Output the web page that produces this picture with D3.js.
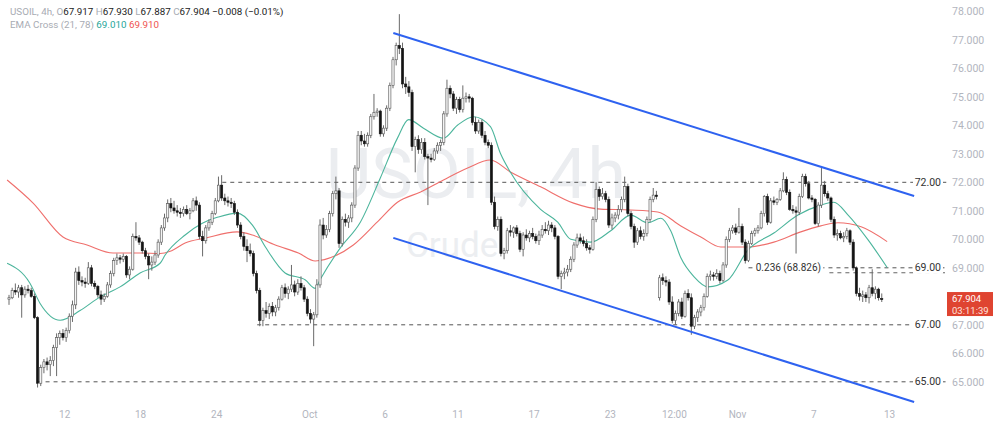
<!DOCTYPE html>
<html><head><meta charset="utf-8">
<script src="https://cdn.jsdelivr.net/npm/d3@7"></script>
<style>body{margin:0;background:#fff;} svg{display:block;font-family:Roboto,"Liberation Sans",sans-serif;}</style>
</head><body><svg id="c" width="1000" height="436"></svg>
<script>
// ---- data ----
const candles = [
[67.90,68.05,67.70,67.95],[67.95,68.30,67.90,68.20],[68.20,68.45,68.05,68.15],[68.15,68.40,67.95,68.30],
[68.30,68.40,67.25,68.05],[68.05,68.35,67.95,68.25],[68.25,68.40,68.10,68.20],[68.20,68.30,67.95,68.00],
[68.00,68.10,67.20,67.25],[67.25,67.30,64.80,64.95],[64.95,65.60,64.85,65.50],[65.50,65.80,65.30,65.70],
[65.70,65.85,65.40,65.60],[65.60,65.90,65.20,65.75],[65.75,66.30,65.55,66.20],[66.20,66.70,65.20,66.55],
[66.55,66.80,66.30,66.70],[66.70,66.85,66.45,66.55],[66.55,66.90,66.40,66.80],[66.80,67.40,66.70,67.30],
[67.30,67.85,67.10,67.70],[67.70,69.00,67.55,68.85],[68.85,69.05,68.40,68.55],[68.55,68.70,68.35,68.50],
[68.50,68.65,68.30,68.45],[68.45,69.20,68.40,69.00],[69.00,69.10,68.35,68.45],[68.45,68.55,68.25,68.35],
[68.35,68.40,67.95,68.05],[68.05,68.20,67.70,67.90],[67.90,68.10,67.80,68.00],[68.00,68.50,67.95,68.40],
[68.40,68.90,68.30,68.80],[68.80,69.35,68.70,69.25],[69.25,69.50,69.10,69.35],[69.35,69.45,69.15,69.30],
[69.30,69.50,69.20,69.40],[69.40,69.45,68.65,68.75],[68.75,69.05,68.60,68.95],[68.95,70.20,68.90,70.10],
[70.10,70.60,69.95,70.05],[70.05,70.15,69.80,69.90],[69.90,69.95,69.50,69.60],[69.60,69.70,69.30,69.40],
[69.40,69.50,68.60,69.10],[69.10,69.40,68.90,69.20],[69.20,69.60,69.10,69.45],[69.45,70.00,69.35,69.90],
[69.90,70.50,69.80,70.40],[70.40,70.90,70.30,70.75],[70.75,71.40,70.60,71.25],[71.25,71.45,70.95,71.10],
[71.10,71.35,70.90,71.00],[71.00,71.20,70.80,70.95],[70.95,71.10,70.75,70.90],[70.90,71.15,70.80,71.05],
[71.05,71.20,70.85,70.90],[70.90,71.10,70.70,71.00],[71.00,71.45,70.95,71.35],[71.35,71.50,71.00,71.20],
[71.20,71.30,70.00,70.10],[70.10,70.30,69.40,69.95],[69.95,70.50,69.85,70.40],[70.40,70.70,70.30,70.60],
[70.60,71.00,70.50,70.90],[70.90,71.45,70.85,71.35],[71.35,72.20,71.30,71.90],[71.90,72.25,71.35,71.45],
[71.45,71.60,71.20,71.35],[71.35,71.50,71.15,71.30],[71.30,71.45,71.10,71.25],[71.25,71.35,70.85,70.95],
[70.95,71.05,70.40,70.50],[70.50,70.60,70.00,70.10],[70.10,70.25,69.60,69.75],[69.75,70.00,69.20,69.60],
[69.60,69.85,69.40,69.50],[69.50,69.60,68.70,68.80],[68.80,68.90,68.10,68.20],[68.20,68.30,66.95,67.15],
[67.15,67.60,66.95,67.50],[67.50,67.80,67.25,67.40],[67.40,67.75,67.20,67.65],[67.65,67.80,67.30,67.45],
[67.45,67.70,67.30,67.60],[67.60,68.00,67.50,67.90],[67.90,68.40,67.85,68.30],[68.30,68.45,67.95,68.10],
[68.10,68.35,67.90,68.25],[68.25,69.10,68.15,68.40],[68.40,68.55,68.00,68.15],[68.15,68.60,68.05,68.45],
[68.45,68.70,68.20,68.30],[68.30,68.40,67.80,67.90],[67.90,68.00,67.30,67.40],[67.40,67.55,67.05,67.20],
[67.20,67.45,66.25,67.35],[67.35,68.60,67.25,68.40],[68.40,70.70,68.30,70.50],[70.50,70.75,70.00,70.15],
[70.15,70.50,70.05,70.35],[70.35,71.00,70.25,70.90],[70.90,71.70,70.80,71.60],[71.60,72.20,71.40,71.70],
[71.70,71.80,69.70,69.85],[69.85,70.80,69.75,70.70],[70.70,70.90,70.45,70.60],[70.60,70.85,70.40,70.75],
[70.75,71.30,70.60,71.20],[71.20,72.60,71.10,72.50],[72.50,73.80,72.40,73.65],[73.65,73.80,73.30,73.45],
[73.45,73.70,73.25,73.35],[73.35,73.75,73.25,73.65],[73.65,74.40,73.55,74.30],[74.30,75.10,74.20,74.45],
[74.45,74.60,74.30,74.50],[74.50,74.55,73.60,73.70],[73.70,74.00,73.60,73.90],[73.90,74.70,73.80,74.60],
[74.60,75.50,74.50,75.40],[75.40,76.40,75.30,76.30],[76.30,76.90,76.10,76.80],[76.80,77.90,76.50,76.70],
[76.70,76.90,75.30,75.45],[75.45,75.70,75.10,75.35],[75.35,75.55,75.00,75.15],[75.15,75.25,73.10,73.25],
[73.25,73.60,72.35,73.50],[73.50,73.65,73.00,73.15],[73.15,73.55,73.00,73.40],[73.40,73.55,72.80,72.90],
[72.90,73.00,71.20,72.85],[72.85,73.00,72.70,72.80],[72.80,73.20,72.75,73.10],[73.10,73.40,73.00,73.30],
[73.30,73.50,73.10,73.40],[73.40,74.50,73.30,74.40],[74.40,75.60,74.30,75.30],[75.30,75.40,74.95,75.10],
[75.10,75.20,74.50,74.60],[74.60,75.00,74.40,74.90],[74.90,75.00,74.45,74.55],[74.55,75.40,74.45,74.95],
[74.95,75.15,74.80,75.00],[75.00,75.10,74.80,74.95],[74.95,75.00,74.00,74.10],[74.10,74.30,73.70,73.80],
[73.80,74.20,73.70,74.10],[74.10,74.20,73.55,73.65],[73.65,73.80,73.30,73.40],[73.40,73.50,73.20,73.30],
[73.30,73.40,71.20,71.30],[71.30,71.50,70.35,70.45],[70.45,70.80,70.30,70.70],[70.70,70.80,69.40,69.50],
[69.50,69.70,69.30,69.60],[69.60,70.40,69.50,70.30],[70.30,70.50,70.10,70.25],[70.25,70.45,70.05,70.40],
[70.40,70.50,70.10,70.20],[70.20,70.30,69.55,69.65],[69.65,70.25,69.40,70.15],[70.15,70.35,69.95,70.05],
[70.05,70.30,69.90,70.20],[70.20,70.40,70.00,70.10],[70.10,70.20,69.85,69.95],[69.95,70.30,69.80,70.15],
[70.15,70.50,70.05,70.35],[70.35,70.60,70.20,70.30],[70.30,70.65,70.15,70.50],[70.50,70.60,70.25,70.40],
[70.40,70.50,70.00,70.10],[70.10,70.15,68.60,68.70],[68.70,68.90,68.25,68.80],[68.80,69.00,68.60,68.85],
[68.85,69.10,68.70,68.95],[68.95,69.40,68.85,69.30],[69.30,69.90,69.20,69.80],[69.80,70.20,69.70,70.05],
[70.05,70.20,69.85,69.95],[69.95,70.10,69.75,69.85],[69.85,70.00,69.60,69.70],[69.70,69.80,69.50,69.65],
[69.65,70.80,69.60,70.70],[70.70,72.00,70.60,71.75],[71.75,71.85,71.35,71.50],[71.50,71.80,71.40,71.60],
[71.60,71.70,71.30,71.40],[71.40,71.50,70.40,70.50],[70.50,70.90,70.35,70.75],[70.75,70.95,70.60,70.85],
[70.85,71.20,70.70,71.05],[71.05,71.50,70.95,71.40],[71.40,72.20,71.30,71.85],[71.85,71.95,70.80,70.90],
[70.90,71.00,70.35,70.45],[70.45,70.55,69.70,69.90],[69.90,70.40,69.80,70.30],[70.30,70.45,70.00,70.10],
[70.10,70.35,69.95,70.20],[70.20,70.80,70.10,70.70],[70.70,71.50,70.60,71.40],[71.40,71.80,71.30,71.55],
[71.55,71.70,71.40,71.50],[67.95,68.75,67.85,68.65],[68.65,68.80,68.40,68.55],[68.55,68.70,68.35,68.50],
[68.50,68.60,67.70,67.80],[67.80,68.00,67.05,67.15],[67.15,67.50,67.00,67.40],[67.40,67.90,67.30,67.80],
[67.80,67.95,67.20,67.30],[67.30,68.20,67.25,68.10],[68.10,68.25,67.85,67.95],[67.95,68.10,66.65,66.95],
[66.95,67.35,66.85,67.25],[67.25,67.55,67.10,67.45],[67.45,67.70,67.30,67.60],[67.60,68.10,67.50,68.00],
[68.00,68.80,67.95,68.70],[68.70,68.90,68.55,68.75],[68.75,68.85,68.55,68.70],[68.70,68.95,68.60,68.80],
[68.80,68.90,68.45,68.55],[68.55,69.20,68.50,69.10],[69.10,70.10,69.00,70.00],[70.00,70.40,69.90,70.30],
[70.30,70.50,70.20,70.40],[70.40,70.55,70.15,70.25],[70.25,71.10,70.20,70.45],[70.45,70.55,69.80,69.90],
[69.90,70.00,69.15,69.25],[69.25,69.95,69.20,69.85],[69.85,70.30,69.80,70.20],[70.20,70.40,70.10,70.30],
[70.30,70.50,70.20,70.40],[70.40,71.00,70.35,70.90],[70.90,71.55,70.80,71.50],[71.50,71.60,70.50,70.60],
[70.60,71.45,70.55,71.35],[71.35,71.50,71.20,71.30],[71.30,71.45,71.20,71.40],[71.40,71.80,71.35,71.70],
[71.70,72.35,71.65,72.10],[72.10,72.20,71.55,71.65],[71.65,71.75,71.00,71.05],[71.05,71.20,70.90,71.00],
[71.00,71.15,69.50,70.95],[70.95,71.60,70.85,71.50],[71.50,72.30,71.45,72.20],[72.20,72.30,71.85,71.95],
[71.95,72.05,71.40,71.45],[71.45,71.55,71.30,71.40],[71.40,71.45,70.50,70.55],[70.55,71.30,70.45,71.20],
[71.20,72.50,71.10,71.90],[71.90,72.05,71.50,71.60],[71.60,71.70,71.35,71.45],[71.45,71.50,70.60,70.70],
[70.70,70.80,70.05,70.15],[70.15,70.35,69.95,70.20],[70.20,70.30,70.00,70.05],[70.05,70.25,69.90,70.10],
[70.10,70.40,70.00,70.30],[70.30,70.35,69.80,69.90],[69.90,70.00,68.90,69.00],[69.00,69.05,68.00,68.10],
[68.10,68.30,67.85,68.00],[68.00,68.20,67.80,68.05],[68.05,68.15,67.80,67.95],[67.95,68.40,67.75,68.30],
[68.30,68.95,68.00,68.10],[68.10,68.35,67.90,68.25],[68.25,68.30,67.85,67.95],[67.917,68.10,67.80,67.904]
];
// EMA values: [candle index, price]
const emaFast = [[-0.6,69.16],[6.6,68.46],[9.8,67.75],[16.1,67.16],[22.4,67.5],[28.7,67.98],[35,68.33],[41.3,68.82],
[47.6,69.16],[49.2,69.45],[55.5,70.15],[60.9,70.56],[65.9,70.78],[71.9,70.92],[76.7,70.5],[80.8,69.73],[87,68.82],
[93.4,68.57],[96.5,68.28],[98.1,68.6],[104.4,69.7],[110.7,70.6],[117,72.15],[122.4,73.55],[125.9,74.2],[130.6,73.9],
[136.9,73.55],[141.3,74.0],[146.4,74.3],[151.7,73.95],[154.9,73.0],[158,72.35],[167.5,71.05],[172.9,70.6],[177,70.0],
[183.3,69.9],[189.6,70.3],[195.9,70.85],[201.3,70.58],[205.4,70.74],[208.5,70.3],[211.7,69.35],[215.8,68.69],
[220.2,68.33],[226.5,68.57],[232.8,69.62],[241,70.22],[248.6,70.85],[255.8,71.2],[259.9,71.3],[264.4,70.85],
[270.7,69.98],[276.7,69.01]];
const emaSlow = [[-0.6,72.08],[7.6,71.27],[17,70.08],[24.6,69.8],[32.8,69.52],[41.3,69.52],[47.6,69.5],[50.8,69.58],
[55.5,69.87],[61.8,70.04],[71.9,70.26],[76.7,70.15],[83.9,69.8],[91.2,69.52],[96.5,69.24],[102.8,69.42],[108.5,69.8],
[116,70.6],[122.4,71.3],[129.7,71.66],[136.9,72.08],[144.5,72.5],[151.7,72.78],[158,72.36],[167.5,71.84],[177.9,71.27],
[186.4,71.06],[195.9,71.03],[204.4,70.96],[211.7,70.47],[218,70.08],[224.3,69.73],[232.8,69.73],[241,69.9],
[249.5,70.26],[255.8,70.47],[261.2,70.58],[268.5,70.44],[276.7,69.92]];
const xTickIdx = [17.4,41.3,65.3,94.6,118.3,141.3,165.3,189.3,209.5,229.4,253.4,277.3];
const xTickLabels = ["12","18","24","Oct","6","11","17","23","12:00","Nov","7","13"];
// 68.000 is hidden behind the last-price box in the reference
const yTickValues = [65,66,67,69,70,71,72,73,74,75,76,77,78];
const levelValues = [72,69,67,65];
const levelLabels = ["72.00","69.00","67.00","65.00"];
const levelStartIdx = [67.2,233,78.2,9];
const levelTrail = [true,true,false,true];
const fibValue = 68.826, fibLabel = "0.236 (68.826)", fibStartIdx = 258.5;
const channelUpper = [[121.1,77.24],[285.2,71.52]];
const channelLower = [[121.1,70.05],[285.2,64.29]];
const lastPrice = 67.904, countdown = "03:11:39";
const headerParts = [["USOIL, 4h, ","#a8abb3"],["O","#a8abb3"],["67.917 ","#222"],["H","#a8abb3"],["67.930 ","#222"],
  ["L","#a8abb3"],["67.887 ","#222"],["C","#a8abb3"],["67.904 ","#222"],["\u22120.008 (\u22120.01%)","#222"]];
const emaHeader = [["EMA Cross (21, 78) ","#a8abb3"],["69.010 ","#26a69a"],["69.910","#ef5350"]];

// ---- drawing ----
const svg = d3.select("#c");
const x = d3.scaleLinear().domain([0, candles.length - 1]).range([9, 881.75]);
const y = d3.scaleLinear().domain([65, 78]).range([381.8, 11.3]);

// watermark
svg.append("text").attr("x",326).attr("y",198).attr("font-size",70).attr("fill","#ebedf0")
  .attr("textLength",300).attr("lengthAdjust","spacingAndGlyphs").text("USOIL, 4h");
svg.append("text").attr("x",406).attr("y",257).attr("font-size",35).attr("fill","#eceef1").text("Crude");

// axes
const yAxis = d3.axisRight(y).tickValues(yTickValues).tickSize(0).tickPadding(2).tickFormat(d3.format(".3f"));
const ya = svg.append("g").attr("transform","translate(950,0)").call(yAxis);
ya.select(".domain").remove();
ya.selectAll("text").attr("fill","#b2b5be").attr("font-size",10.5).attr("font-family","Roboto, sans-serif");

const xAxis = d3.axisBottom(x).tickValues(xTickIdx).tickSize(0).tickPadding(8).tickFormat((d,i)=>xTickLabels[i]);
const xa = svg.append("g").attr("transform","translate(0,403)").call(xAxis);
xa.select(".domain").remove();
xa.selectAll("text").attr("fill","#b2b5be").attr("font-size",10).attr("font-family","Roboto, sans-serif");

// level lines
const lv = svg.append("g");
levelValues.forEach((v,i)=>{
  lv.append("line").attr("x1",x(levelStartIdx[i])).attr("x2",levelTrail[i]?947:912)
    .attr("y1",y(v)).attr("y2",y(v)).attr("stroke","#555").attr("stroke-width",1).attr("stroke-dasharray","4,4");
});
lv.append("line").attr("x1",x(fibStartIdx)).attr("x2",945).attr("y1",y(fibValue)).attr("y2",y(fibValue))
  .attr("stroke","#666").attr("stroke-width",1).attr("stroke-dasharray","4,4");
levelValues.forEach((v,i)=>{
  lv.append("rect").attr("x",913).attr("y",y(v)-6).attr("width",30).attr("height",12).attr("fill","#fff");
  lv.append("text").attr("x",941).attr("y",y(v)).attr("dy","0.35em").attr("text-anchor","end")
    .attr("font-size",10.5).attr("fill","#333").text(levelLabels[i]);
});
// fib label sits on 69 line
lv.append("rect").attr("x",x(234.5)).attr("y",y(69)-6).attr("width",70).attr("height",11).attr("fill","#fff");
lv.append("text").attr("x",x(235.3)).attr("y",y(69)).attr("dy","0.35em").attr("font-size",10)
  .attr("fill","#333").text(fibLabel);

// EMAs
const line = d3.line().x(d=>x(d[0])).y(d=>y(d[1])).curve(d3.curveMonotoneX);
svg.append("path").datum(emaSlow).attr("d",line).attr("fill","none").attr("stroke","#ef6f6c").attr("stroke-width",1.1);
svg.append("path").datum(emaFast).attr("d",line).attr("fill","none").attr("stroke","#4cb59c").attr("stroke-width",1.1);

// candles
const cg = svg.append("g");
const bw = 2.2;
candles.forEach((c,i)=>{
  const [o,h,l,cl] = c; const cx = x(i); const up = cl >= o;
  cg.append("line").attr("x1",cx).attr("x2",cx).attr("y1",y(h)).attr("y2",y(l)).attr("stroke","#6a6a6a").attr("stroke-width",1);
  const top = y(Math.max(o,cl)), bot = y(Math.min(o,cl));
  cg.append("rect").attr("x",cx-bw/2).attr("y",top).attr("width",bw).attr("height",Math.max(1,bot-top))
    .attr("fill",up?"#f4f4f4":"#141414").attr("stroke",up?"#555":"#141414").attr("stroke-width",0.6);
});

// channel
[channelUpper, channelLower].forEach(ch=>{
  svg.append("line").attr("x1",x(ch[0][0])).attr("y1",y(ch[0][1])).attr("x2",x(ch[1][0])).attr("y2",y(ch[1][1]))
    .attr("stroke","#2e62f0").attr("stroke-width",2);
});

// last price label
const ly = y(lastPrice);
svg.append("rect").attr("x",947).attr("y",ly-7).attr("width",46).attr("height",24).attr("fill","#df4431");
svg.append("text").attr("x",952).attr("y",ly+3.3).attr("font-size",9.5).attr("fill","#fff").text(lastPrice.toFixed(3));
svg.append("text").attr("x",952).attr("y",ly+15.3).attr("font-size",9.5).attr("fill","#ffe3df").text(countdown);

// header
const h1 = svg.append("text").attr("x",10).attr("y",15).attr("font-size",9.8).attr("xml:space","preserve");
headerParts.forEach(p=>h1.append("tspan").attr("fill",p[1]).text(p[0]));
const h2 = svg.append("text").attr("x",10).attr("y",28).attr("font-size",9.8).attr("xml:space","preserve");
emaHeader.forEach(p=>h2.append("tspan").attr("fill",p[1]).text(p[0]));
</script></body></html>
